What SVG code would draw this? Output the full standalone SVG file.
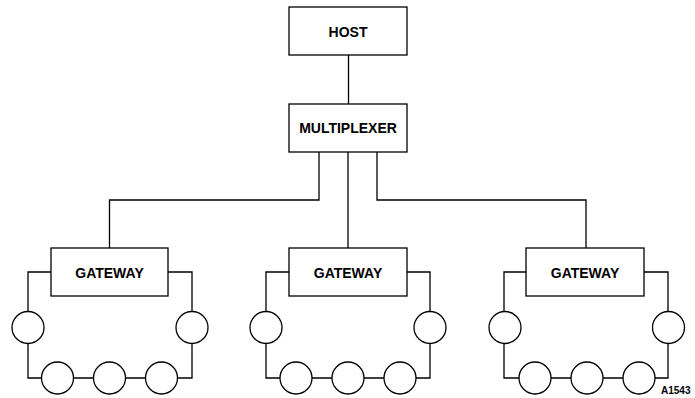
<svg xmlns="http://www.w3.org/2000/svg" width="695" height="398" viewBox="0 0 695 398">
<style>
.box{fill:#fff;stroke:#000;stroke-width:1.3}
.ln{fill:none;stroke:#000;stroke-width:1.3}
.nd{fill:#fff;stroke:#000;stroke-width:1.3}
.t{font-family:"Liberation Sans",Arial,sans-serif;font-weight:bold;font-size:14px;text-anchor:middle;fill:#000}
.lbl{font-family:"Liberation Sans",Arial,sans-serif;font-weight:bold;font-size:10px;fill:#000}
</style>
<rect width="695" height="398" fill="#fff"/>
<g id="connectors">
<path class="ln" d="M348.5 55V104"/>
<path class="ln" d="M319 152V200H109.5V248"/>
<path class="ln" d="M348 152V248"/>
<path class="ln" d="M377 152V200H586V248"/>
<path class="ln" d="M51 272H28V378H192V272H168"/>
<path class="ln" d="M289 272H266V378H430V272H407"/>
<path class="ln" d="M526 272H504V378H668V272H644"/>
</g>
<g id="host"><rect class="box" x="289" y="7" width="118" height="48"/><text class="t" x="348" y="36.5">HOST</text></g>
<g id="multiplexer"><rect class="box" x="289" y="104" width="118" height="48"/><text class="t" x="348" y="133.3">MULTIPLEXER</text></g>
<g id="gateway1"><rect class="box" x="51" y="248" width="117" height="48"/><text class="t" x="109.5" y="277.5">GATEWAY</text></g>
<g id="gateway2"><rect class="box" x="289" y="248" width="118" height="48"/><text class="t" x="348" y="277.5">GATEWAY</text></g>
<g id="gateway3"><rect class="box" x="526" y="248" width="118" height="48"/><text class="t" x="585" y="277.5">GATEWAY</text></g>
<g id="ring1">
<circle class="nd" cx="28" cy="327.5" r="16"/><circle class="nd" cx="192" cy="327.5" r="16"/>
<circle class="nd" cx="57.5" cy="378" r="16"/><circle class="nd" cx="109.5" cy="378" r="16"/><circle class="nd" cx="161.5" cy="378" r="16"/>
</g>
<g id="ring2">
<circle class="nd" cx="266" cy="327.5" r="16"/><circle class="nd" cx="430" cy="327.5" r="16"/>
<circle class="nd" cx="296" cy="378" r="16"/><circle class="nd" cx="348" cy="378" r="16"/><circle class="nd" cx="400" cy="378" r="16"/>
</g>
<g id="ring3">
<circle class="nd" cx="505" cy="327.5" r="16"/><circle class="nd" cx="668.5" cy="327.5" r="16"/>
<circle class="nd" cx="535" cy="378" r="16"/><circle class="nd" cx="587" cy="378" r="16"/><circle class="nd" cx="639" cy="378" r="16"/>
</g>
<text class="lbl" x="661" y="393.5">A1543</text>
</svg>
